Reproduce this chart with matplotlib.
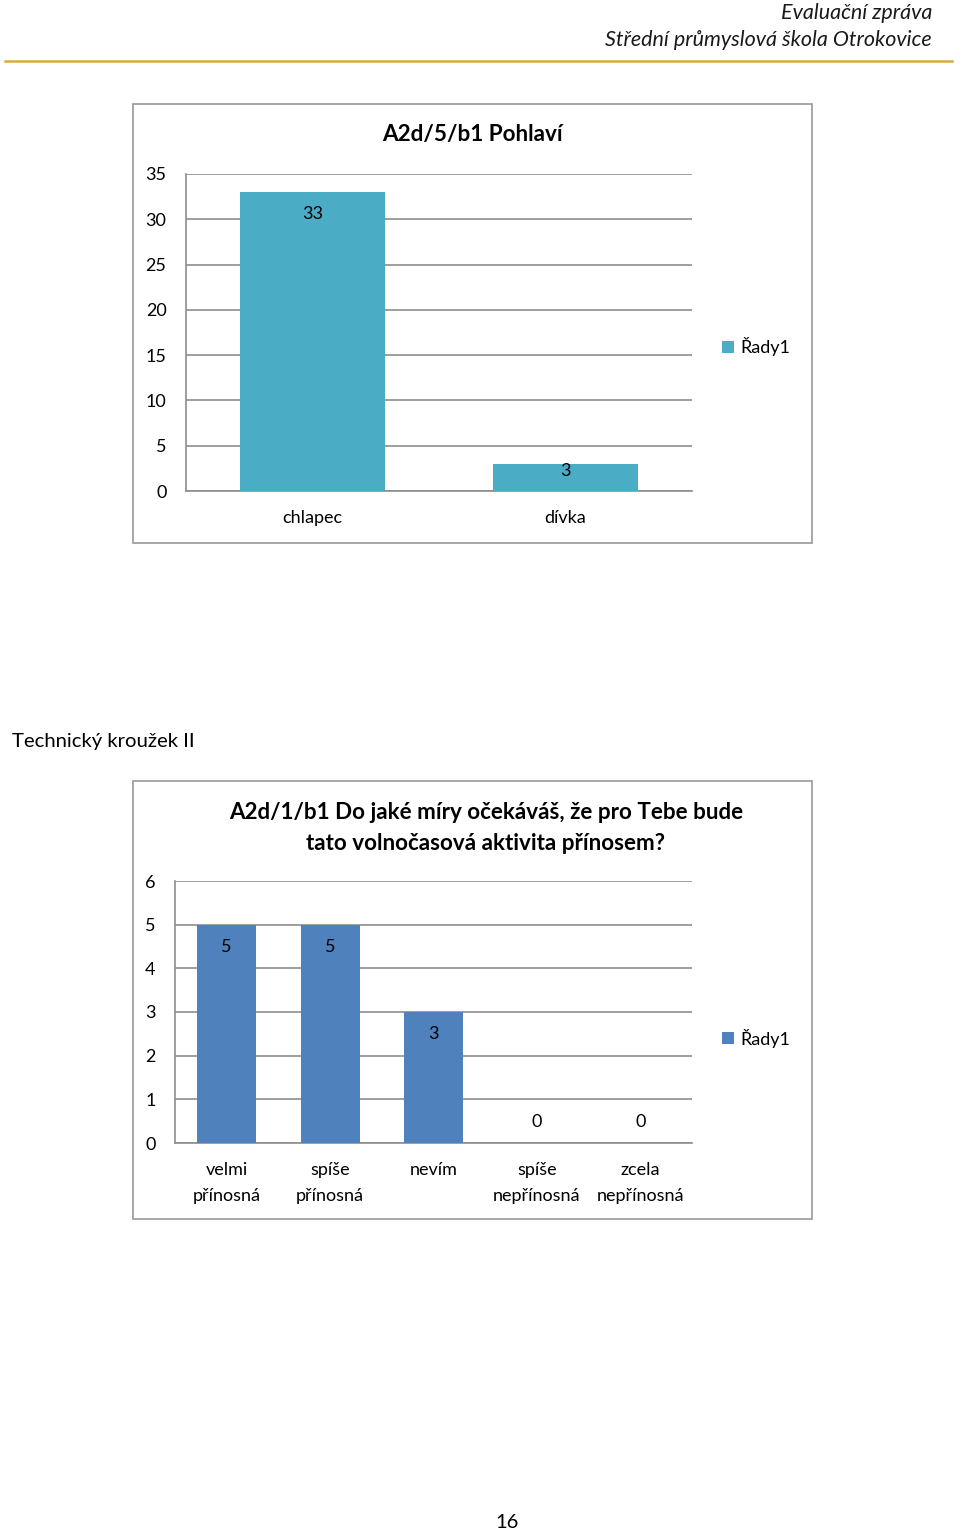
import matplotlib
matplotlib.use("Agg")
import matplotlib.pyplot as plt
from matplotlib.patches import Rectangle
from matplotlib.lines import Line2D

plt.rcParams['font.family'] = ['Lato', 'DejaVu Sans']

# ---- data ----
header_lines = ["Evaluační zpráva", "Střední průmyslová škola Otrokovice"]
section_text = "Technický kroužek II"
page_number = "16"

chart1_title = "A2d/5/b1 Pohlaví"
chart1_categories = ["chlapec", "dívka"]
chart1_values = [33, 3]
chart1_yticks = [0, 5, 10, 15, 20, 25, 30, 35]

chart2_title = "A2d/1/b1 Do jaké míry očekáváš, že pro Tebe bude\ntato volnočasová aktivita přínosem?"
chart2_categories = ["velmi\npřínosná", "spíše\npřínosná", "nevím", "spíše\nnepřínosná", "zcela\nnepřínosná"]
chart2_values = [5, 5, 3, 0, 0]
chart2_yticks = [0, 1, 2, 3, 4, 5, 6]

series_name = "Řady1"

W, H = 960, 1532
fig = plt.figure(figsize=(W / 100, H / 100), dpi=100)
fig.patch.set_facecolor('white')


def fx(x):
    return x / W


def fy(y):
    return 1 - y / H


def px2pt(p):
    return p * 72 / 100


TEXT_COLOR = '#000000'
GRID = '#8E8E8E'
FRAME = '#A0A0A0'

# header
fig.text(fx(932), fy(13), header_lines[0], ha='right', va='center', fontsize=15.5,
         style='italic', color='#1a1a1a')
fig.text(fx(932), fy(40), header_lines[1], ha='right', va='center', fontsize=15.5,
         style='italic', color='#1a1a1a')
fig.add_artist(Line2D([fx(5), fx(952)], [fy(61), fy(61)], color='#DAAA3C', lw=1.8,
                      transform=fig.transFigure))

fig.text(fx(12), fy(741), section_text, ha='left', va='center', fontsize=14.6, color=TEXT_COLOR)
fig.text(fx(507), fy(1522), page_number, ha='center', va='center', fontsize=14.5, color=TEXT_COLOR)


def frame(x0, y0, x1, y1):
    fig.add_artist(Rectangle((fx(x0), fy(y1)), fx(x1) - fx(x0), fy(y0) - fy(y1),
                             transform=fig.transFigure, fill=False, edgecolor=FRAME, lw=1.3))


def make_chart(box, plot, title, title_x, title_y, title_size, cats, vals, yticks, color,
               legend_y, tick_pad):
    frame(*box)
    l, t, r, b = plot
    ax = fig.add_axes([fx(l), fy(b), fx(r) - fx(l), fy(t) - fy(b)])
    x = list(range(len(cats)))
    bars = ax.bar(x, vals, width=0.57, color=color, label=series_name, zorder=3)
    ax.set_xlim(-0.5, len(cats) - 0.5)
    ax.set_ylim(yticks[0], yticks[-1])
    ax.set_yticks(yticks)
    ax.set_xticks(x)
    ax.set_xticklabels(cats, fontsize=13, linespacing=1.8)
    ax.tick_params(axis='y', length=0, pad=tick_pad, labelsize=13)
    ax.tick_params(axis='x', length=0, pad=13.5)
    for s in ['top', 'right']:
        ax.spines[s].set_visible(False)
    ax.spines['left'].set_color(GRID)
    ax.spines['bottom'].set_color(GRID)
    ax.spines['left'].set_linewidth(1.2)
    ax.spines['bottom'].set_linewidth(1.2)
    ax.yaxis.grid(True, color=GRID, lw=1.2, zorder=0)
    ax.set_axisbelow(True)
    # data labels
    ppu = (b - t) / (yticks[-1] - yticks[0])
    for xi, v in zip(x, vals):
        hpx = v * ppu
        if v == 0:
            off = 21
        elif hpx > 44:
            off = -22
        else:
            off = -7
        ax.annotate(str(v), (xi, v), xytext=(0, px2pt(off)), textcoords='offset points',
                    ha='center', va='center', fontsize=13, color=TEXT_COLOR, zorder=4)
    fig.text(fx(title_x), fy(title_y), title, ha='center', va='center',
             fontsize=title_size, fontweight='bold', color=TEXT_COLOR, linespacing=1.55)
    ax.legend(handles=[bars], loc='center left', bbox_to_anchor=(fx(722), fy(legend_y)),
              bbox_transform=fig.transFigure, frameon=False, fontsize=13,
              handlelength=0.65, handleheight=0.65, handletextpad=0.35,
              borderaxespad=0, borderpad=0)
    return ax


make_chart((133, 104, 812, 543), (186, 174, 692, 491), chart1_title, 472, 134, 16.2,
           chart1_categories, chart1_values, chart1_yticks, '#4BACC6', 347, 14)
make_chart((133, 781, 812, 1219), (175, 881, 692, 1143), chart2_title, 486, 828, 16.1,
           chart2_categories, chart2_values, chart2_yticks, '#4F81BD', 1038, 14)

fig.savefig('out.png', dpi=100, facecolor='white')
